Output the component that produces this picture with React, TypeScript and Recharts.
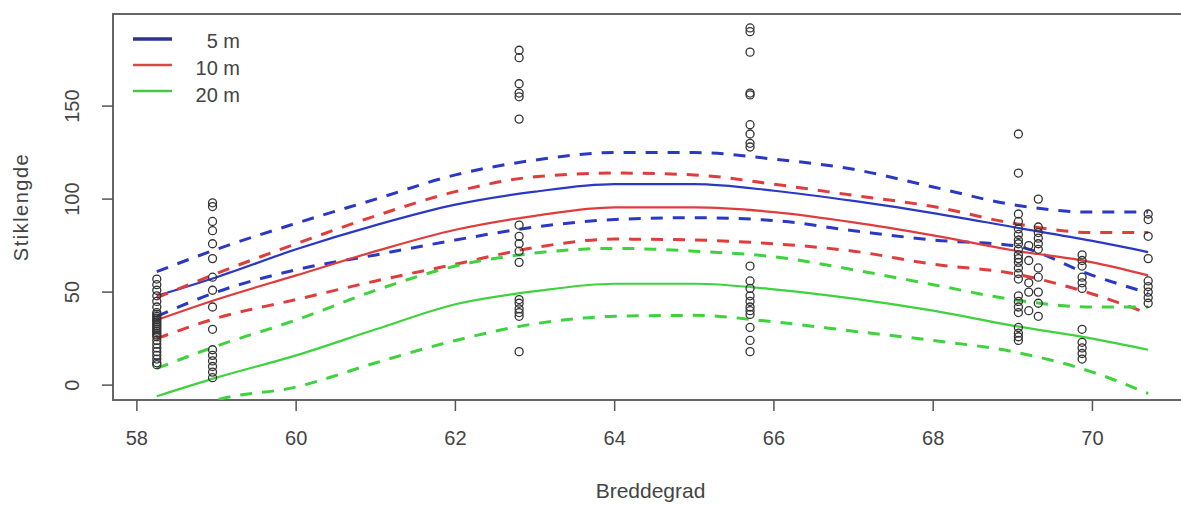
import React from "react";
import {
  ComposedChart,
  Line,
  Scatter,
  XAxis,
  YAxis,
  ReferenceArea,
  Legend,
} from "recharts";

// latitudes where the fitted curves were read
const XS = [58.25, 59, 60, 61, 62, 63, 64, 65, 66, 67, 68, 69, 70, 70.7];

// 5 m
const FIT_5 = [48, 58, 73, 86, 97, 104, 108, 108, 104.5, 99, 92.5, 85, 77.5, 71.5];
const UP_5 = [61, 73, 87, 100, 113, 121, 125, 125, 121.5, 116, 106.5, 97, 93, 93];
const LO_5 = [37, 50, 62, 70, 78, 85, 89, 90, 88.5, 83, 78, 75, 59, 49.5];
// 10 m
const FIT_10 = [35, 46, 59, 72, 83.5, 91, 95.5, 95.5, 93, 87.5, 80.5, 72.5, 66, 59];
const UP_10 = [47, 60, 76, 91, 104, 112, 114, 113, 108, 102, 96, 87, 82, 82];
const LO_10 = [25, 36, 46, 56, 65, 74, 78.5, 78, 76, 72, 65, 60, 49, 38.5];
// 20 m
const FIT_20 = [-6, 4, 16, 30, 43.5, 50.5, 54.5, 54.5, 51.5, 46.5, 40, 32, 25, 19];
const UP_20 = [9, 21, 35, 51, 64, 71, 73.5, 72, 69, 62, 54, 46, 42, 42];
const LO_20 = [-20, -8, -1, 12, 24, 33, 37, 37.5, 34, 29, 24, 18, 7, -4.5];

// observed stem lengths per sampling latitude
const OBS_LAT = [58.25, 58.95, 62.8, 65.7, 69.07, 69.2, 69.32, 69.87, 70.7];
const OBS_VALUES = [
  [57, 54, 51, 48, 45, 42, 39, 38, 37, 36, 35, 34, 33, 32, 31, 30, 29, 28, 27, 26, 24, 22, 20, 18, 16, 14, 12, 11],
  [98, 96, 88, 83, 76, 68, 58, 51, 42, 30, 19, 16, 13, 10, 7, 4],
  [180, 176, 162, 157, 155, 143, 86, 80, 76, 72, 66, 46, 44, 41, 39, 37, 18],
  [192, 190, 179, 157, 156, 140, 135, 130, 128, 64, 56, 52, 48, 45, 42, 40, 38, 31, 24, 18],
  [135, 114, 92, 88, 84, 81, 78, 76, 73, 70, 68, 66, 63, 60, 57, 48, 45, 42, 39, 31, 28, 26, 24],
  [75, 67, 55, 50, 40],
  [100, 85, 82, 79, 76, 73, 63, 58, 50, 44, 37],
  [70, 67, 64, 58, 55, 52, 30, 23, 20, 17, 14],
  [92, 89, 80, 68, 56, 53, 50, 47, 44],
];

const X_TICKS = [58, 60, 62, 64, 66, 68, 70];
const Y_TICKS = [0, 50, 100, 150];
const LEGEND_LABELS = ["5 m", "10 m", "20 m"];

const BLUE = "#2a38c4";
const RED = "#e03c3c";
const GREEN = "#3ed23e";
const FONT = "'Liberation Sans', Arial, sans-serif";
const TEXT = "#444";

const rows = XS.map((x, i) => ({
  x,
  fit5: FIT_5[i],
  up5: UP_5[i],
  lo5: LO_5[i],
  fit10: FIT_10[i],
  up10: UP_10[i],
  lo10: LO_10[i],
  fit20: FIT_20[i],
  up20: UP_20[i],
  lo20: LO_20[i],
}));

const points = OBS_LAT.flatMap((lat, i) => OBS_VALUES[i].map((y) => ({ x: lat, y })));

const curves = [
  { key: "fit5", color: BLUE, dashed: false },
  { key: "up5", color: BLUE, dashed: true },
  { key: "lo5", color: BLUE, dashed: true },
  { key: "fit10", color: RED, dashed: false },
  { key: "up10", color: RED, dashed: true },
  { key: "lo10", color: RED, dashed: true },
  { key: "fit20", color: GREEN, dashed: false },
  { key: "up20", color: GREEN, dashed: true },
  { key: "lo20", color: GREEN, dashed: true },
];

const legendColors = ["#2a358c", "#d84848", "#45c845"];

function XTick({ x, y, payload }: any) {
  return (
    <text x={x} y={y} dy={34} textAnchor="middle" fontSize={20} fill={TEXT} fontFamily={FONT}>
      {payload.value}
    </text>
  );
}

function YTick({ x, y, payload }: any) {
  const tx = x - 23;
  return (
    <text
      x={tx}
      y={y}
      transform={`rotate(-90 ${tx} ${y})`}
      textAnchor="middle"
      fontSize={20}
      fill={TEXT}
      fontFamily={FONT}
    >
      {payload.value}
    </text>
  );
}

function LegendBox() {
  return (
    <svg width={140} height={95}>
      {LEGEND_LABELS.map((label, i) => {
        const ly = 15 + i * 26;
        return (
          <g key={label}>
            <line x1={8} x2={47} y1={ly} y2={ly} stroke={legendColors[i]} strokeWidth={i === 0 ? 3.5 : 2.5} />
            <text x={115} y={ly + 9 + i * 1.2} textAnchor="end" fontSize={20} fill={TEXT} fontFamily={FONT}>
              {label}
            </text>
          </g>
        );
      })}
    </svg>
  );
}

export default function App() {
  return (
    <div
      style={{
        position: "absolute",
        left: 0,
        top: 0,
        width: 1181,
        height: 505,
        overflow: "hidden",
        background: "#fff",
      }}
    >
      <ComposedChart
        width={1200}
        height={505}
        data={rows}
        margin={{ top: 14, right: 12, left: 0, bottom: 0 }}
      >
        <XAxis
          type="number"
          dataKey="x"
          domain={[57.7, 71.2]}
          ticks={X_TICKS}
          allowDataOverflow
          axisLine={false}
          tickSize={11}
          tickMargin={0}
          tickLine={{ stroke: "#555", strokeWidth: 1.5 }}
          tick={<XTick />}
          height={105}
          label={{
            content: ({ viewBox }: any) => (
              <text
                x={viewBox.x + viewBox.width / 2}
                y={498}
                textAnchor="middle"
                fontSize={21}
                fill={TEXT}
                fontFamily={FONT}
              >
                Breddegrad
              </text>
            ),
          }}
        />
        <YAxis
          type="number"
          domain={[-8, 199.5]}
          ticks={Y_TICKS}
          allowDataOverflow
          axisLine={false}
          tickSize={11}
          tickMargin={0}
          tickLine={{ stroke: "#555", strokeWidth: 1.5 }}
          tick={<YTick />}
          width={113}
          label={{
            content: ({ viewBox }: any) => {
              const cy = viewBox.y + viewBox.height / 2;
              return (
                <text
                  x={28}
                  y={cy}
                  transform={`rotate(-90 28 ${cy})`}
                  textAnchor="middle"
                  fontSize={20}
                  fill={TEXT}
                  fontFamily={FONT}
                  letterSpacing={1.5}
                >
                  Stiklengde
                </text>
              );
            },
          }}
        />
        <Scatter
          data={points}
          dataKey="y"
          isAnimationActive={false}
          shape={(p: any) => (
            <circle cx={p.cx} cy={p.cy} r={4} fill="none" stroke="#333" strokeWidth={1.3} />
          )}
        />
        {curves.map((c) => (
          <Line
            key={c.key}
            dataKey={c.key}
            type="monotone"
            stroke={c.color}
            strokeWidth={c.dashed ? 3 : 2.2}
            strokeDasharray={c.dashed ? "12 10" : undefined}
            dot={false}
            activeDot={false}
            isAnimationActive={false}
          />
        ))}
        <ReferenceArea
          x1={57.7}
          x2={71.2}
          y1={-8}
          y2={199.5}
          fill="none"
          stroke="#666"
          strokeWidth={2}
        />
        <Legend
          layout="vertical"
          align="center"
          verticalAlign="middle"
          wrapperStyle={{ left: 125, top: 24, width: 140 }}
          content={() => <LegendBox />}
        />
      </ComposedChart>
    </div>
  );
}
